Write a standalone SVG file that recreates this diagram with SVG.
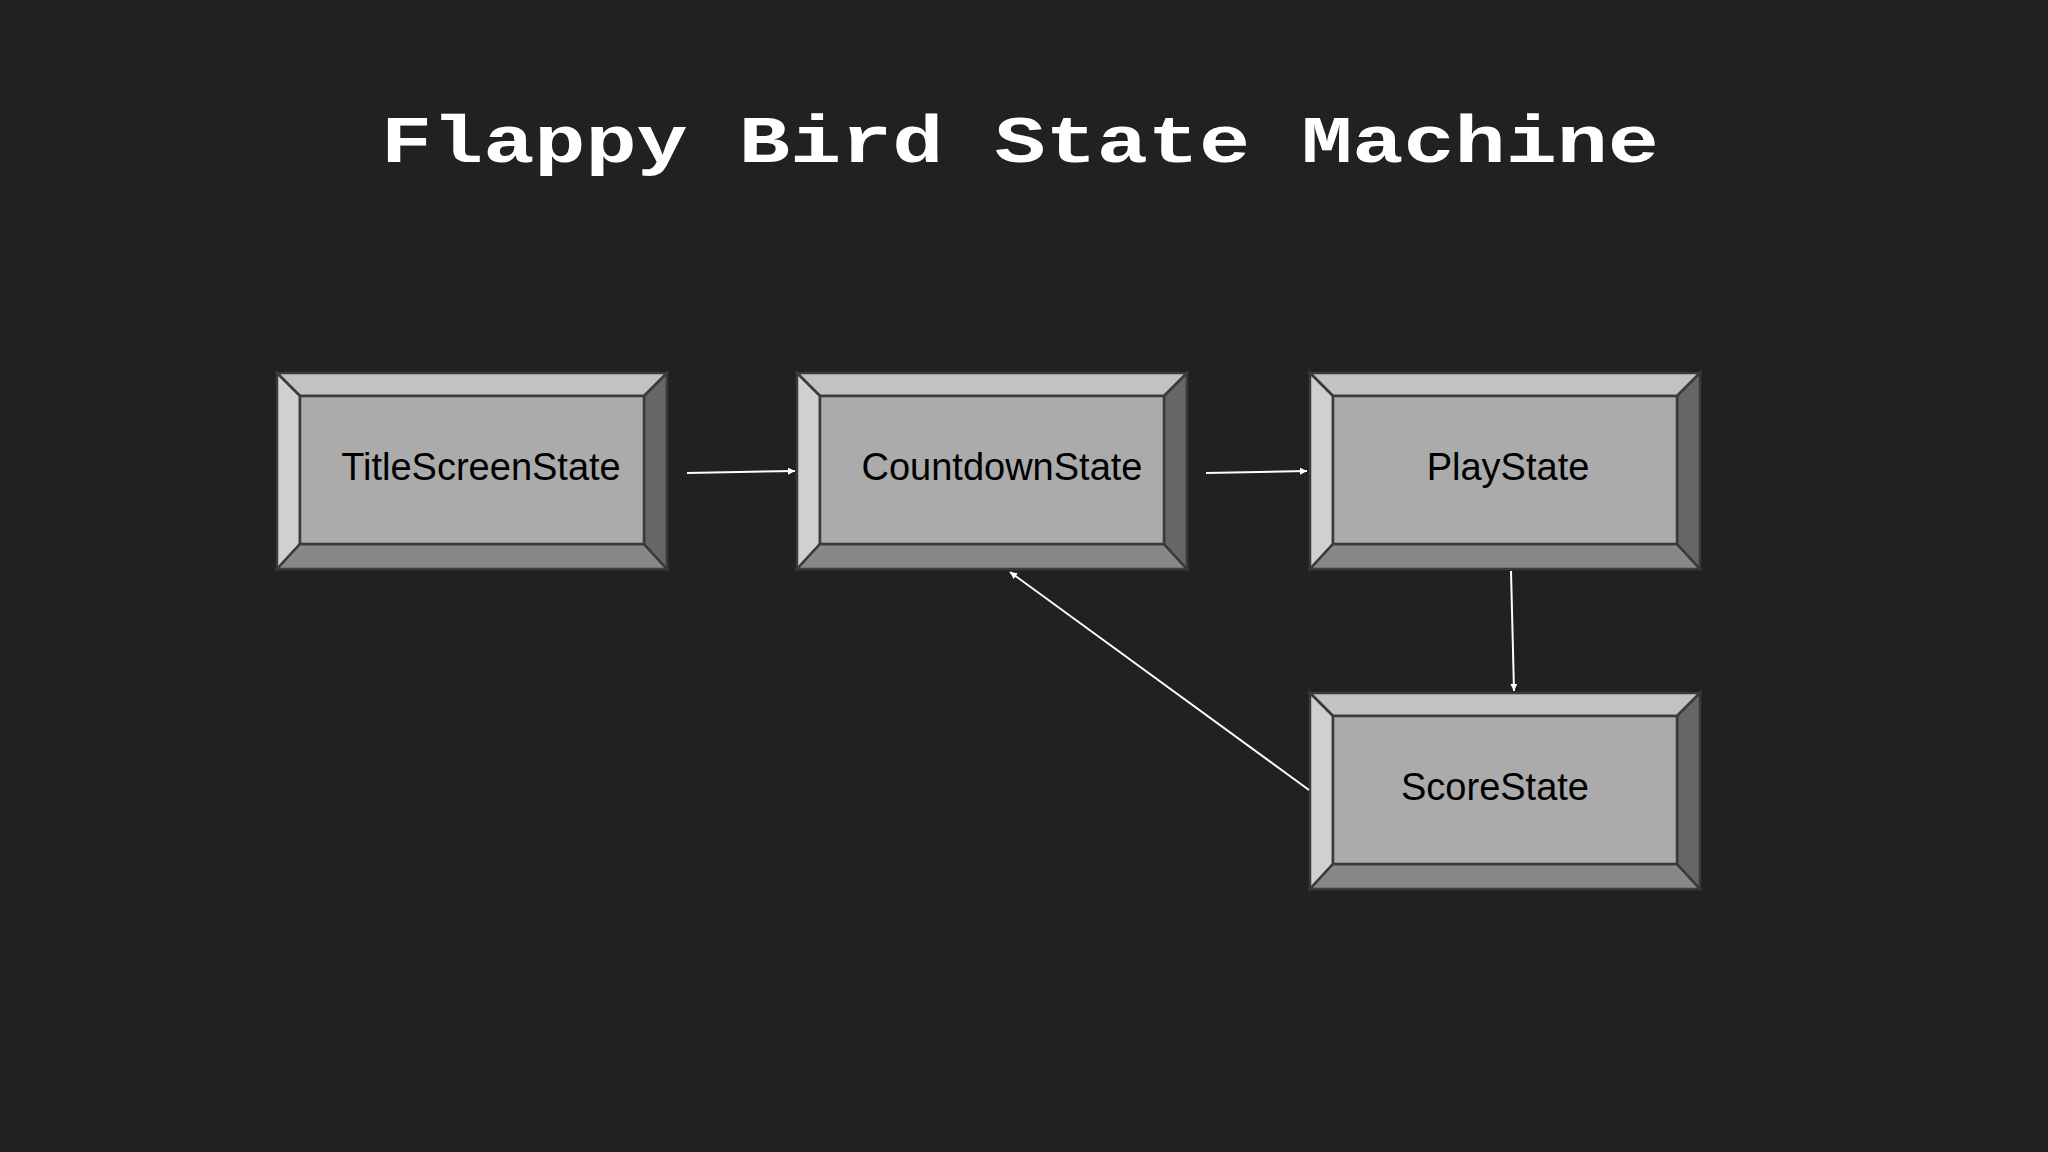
<svg xmlns="http://www.w3.org/2000/svg" width="2048" height="1152" viewBox="0 0 2048 1152">
<style>
.o{stroke:#3a3a3a;stroke-width:2.5}
.t{fill:#c2c2c2}.l{fill:#d0d0d0}.b{fill:#888}.r{fill:#666}.f{fill:#ababab}
.lb{font-family:"Liberation Sans",Arial,sans-serif;font-size:38px;fill:#000;text-anchor:middle}
.c{stroke:#fff;stroke-width:2;fill:none;marker-end:url(#a)}
</style>
<defs>
<marker id="a" viewBox="0 0 10 10" refX="10" refY="5" markerWidth="7" markerHeight="7" orient="auto" markerUnits="userSpaceOnUse"><path d="M0,0L10,5L0,10z" fill="#fff"/></marker>
<g id="box">
<path class="t o" d="M0,0H390L367,23H23Z"/>
<path class="l o" d="M0,0L23,23V171L0,196Z"/>
<path class="b o" d="M0,196L23,171H367L390,196Z"/>
<path class="r o" d="M390,0V196L367,171V23Z"/>
<rect class="f o" x="23" y="23" width="344" height="148"/>
</g>
</defs>
<rect width="2048" height="1152" fill="#212121"/>
<text x="1020" y="162" font-family="'Liberation Mono','DejaVu Sans Mono',monospace" font-weight="bold" font-size="66" fill="#fff" text-anchor="middle" textLength="1278" lengthAdjust="spacingAndGlyphs">Flappy Bird State Machine</text>
<g id="n1"><use href="#box" x="277" y="373"/><text class="lb" x="481" y="480">TitleScreenState</text></g>
<g id="n2"><use href="#box" x="797" y="373"/><text class="lb" x="1002" y="480">CountdownState</text></g>
<g id="n3"><use href="#box" x="1310" y="373"/><text class="lb" x="1508" y="480">PlayState</text></g>
<g id="n4"><use href="#box" x="1310" y="693"/><text class="lb" x="1495" y="800">ScoreState</text></g>
<g id="connectors">
<path class="c" d="M687,473L795,471"/>
<path class="c" d="M1206,473L1307,471"/>
<path class="c" d="M1511,571L1514,691"/>
<path class="c" d="M1309,790L1010,572"/>
</g>
</svg>
